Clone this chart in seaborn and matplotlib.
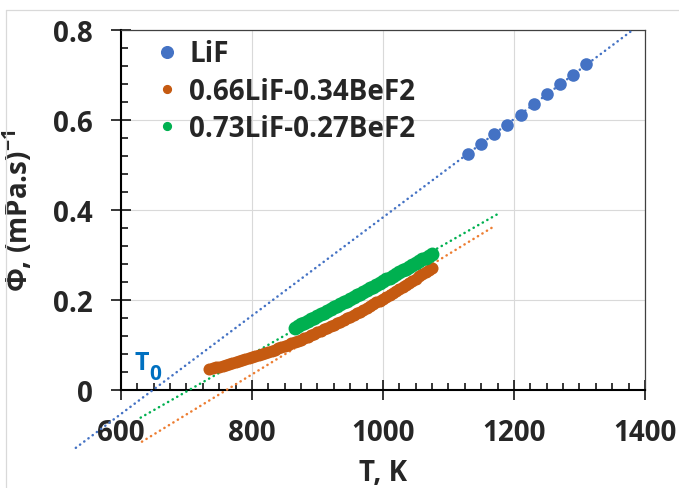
import numpy as np
import pandas as pd
import matplotlib
matplotlib.use("Agg")
import matplotlib.pyplot as plt
import seaborn as sns
from matplotlib.lines import Line2D
from matplotlib.ticker import MultipleLocator

# Fluidity of molten LiF and two LiF-BeF2 mixtures vs temperature
series_names = ["LiF", "0.66LiF-0.34BeF2", "0.73LiF-0.27BeF2"]

lif_T = [1130, 1150, 1170, 1190, 1210, 1230, 1250, 1270, 1290, 1310]
lif_phi = [0.524, 0.547, 0.569, 0.590, 0.612, 0.635, 0.657, 0.680, 0.701, 0.724]

mix66_T = [735, 740, 745, 750, 755, 760, 765, 770, 775, 780, 785, 790,
           795, 800, 805, 810, 815, 820, 825, 830, 835, 840, 845, 850,
           855, 860, 865, 870, 875, 880, 885, 890, 895, 900, 905, 910,
           915, 920, 925, 930, 935, 940, 945, 950, 955, 960, 965, 970,
           975, 980, 985, 990, 995, 1000, 1005, 1010, 1015, 1020, 1025,
           1030, 1035, 1040, 1045, 1050, 1055, 1060, 1065, 1070, 1075]
mix66_phi = [0.0470, 0.0487, 0.0504, 0.0522, 0.0540, 0.0558, 0.0578,
             0.0597, 0.0617, 0.0638, 0.0659, 0.0681, 0.0703, 0.0725,
             0.0748, 0.0772, 0.0796, 0.0820, 0.0845, 0.0871, 0.0897,
             0.0923, 0.0950, 0.0978, 0.1006, 0.1034, 0.1063, 0.1092,
             0.1122, 0.1153, 0.1184, 0.1215, 0.1247, 0.1279, 0.1312,
             0.1345, 0.1379, 0.1413, 0.1448, 0.1483, 0.1519, 0.1555,
             0.1592, 0.1629, 0.1667, 0.1705, 0.1744, 0.1783, 0.1823,
             0.1863, 0.1904, 0.1945, 0.1987, 0.2029, 0.2071, 0.2114,
             0.2158, 0.2202, 0.2247, 0.2292, 0.2337, 0.2383, 0.2430,
             0.2477, 0.2524, 0.2572, 0.2621, 0.2670, 0.2719]

mix73_T = [865, 870, 875, 880, 885, 890, 895, 900, 905, 910, 915, 920,
           925, 930, 935, 940, 945, 950, 955, 960, 965, 970, 975, 980,
           985, 990, 995, 1000, 1005, 1010, 1015, 1020, 1025, 1030, 1035,
           1040, 1045, 1050, 1055, 1060, 1065, 1070, 1075]
mix73_phi = [0.1385, 0.1422, 0.1459, 0.1496, 0.1533, 0.1571, 0.1608,
             0.1646, 0.1683, 0.1721, 0.1759, 0.1797, 0.1835, 0.1873,
             0.1911, 0.1950, 0.1988, 0.2027, 0.2066, 0.2104, 0.2143,
             0.2182, 0.2221, 0.2260, 0.2300, 0.2339, 0.2378, 0.2418,
             0.2458, 0.2497, 0.2537, 0.2577, 0.2617, 0.2658, 0.2698,
             0.2738, 0.2779, 0.2819, 0.2860, 0.2901, 0.2942, 0.2983,
             0.3024]

# Linear trend lines: slope, intercept temperature T0 (phi = 0), drawn range
trend_slope = [0.001092, 0.00089, 0.00083]
trend_T0 = [648.7, 761.0, 704.0]
trend_start = [531, 632, 630]
trend_end = [1382, 1170, 1180]

marker_colors = ["#4472C4", "#C55A11", "#00B050"]
trend_colors = ["#4472C4", "#ED7D31", "#00B050"]
marker_sizes = [82, 75, 100]

sns.set_style("white")
plt.rcParams["font.family"] = ["Open Sans", "DejaVu Sans"]
plt.rcParams["font.weight"] = "bold"
plt.rcParams["mathtext.fontset"] = "custom"
plt.rcParams["mathtext.rm"] = "Open Sans:bold"
plt.rcParams["mathtext.bf"] = "Open Sans:bold"
plt.rcParams["mathtext.default"] = "rm"

fig = plt.figure(figsize=(6.79, 4.89), dpi=100)
ax = fig.add_axes([0.1782, 0.2004, 0.7717, 0.7362])

# light outer chart frame
fig.add_artist(Line2D([6 / 679, 6 / 679], [0, 1 - 10.5 / 489],
                      transform=fig.transFigure, color="#D9D9D9", lw=0.9))
fig.add_artist(Line2D([6 / 679, 1], [1 - 10.5 / 489, 1 - 10.5 / 489],
                      transform=fig.transFigure, color="#D9D9D9", lw=0.9))

# trend lines
for i in range(3):
    t = np.array([trend_start[i], trend_end[i]], dtype=float)
    phi = trend_slope[i] * (t - trend_T0[i])
    sns.lineplot(x=t, y=phi, ax=ax, color=trend_colors[i], lw=1.8,
                 linestyle=(0, (0.1, 2.0)), dash_capstyle="round",
                 clip_on=False, zorder=3, legend=False)

# measured points
data = [(lif_T, lif_phi), (mix66_T, mix66_phi), (mix73_T, mix73_phi)]
for i, (tx, py) in enumerate(data):
    df = pd.DataFrame({"T": tx, "phi": py})
    sns.scatterplot(data=df, x="T", y="phi", ax=ax, color=marker_colors[i],
                    s=marker_sizes[i], linewidth=0, zorder=4, legend=False)

ax.set_xlim(600, 1400)
ax.set_ylim(0, 0.8)
ax.xaxis.set_major_locator(MultipleLocator(200))
ax.xaxis.set_minor_locator(MultipleLocator(25))
ax.yaxis.set_major_locator(MultipleLocator(0.2))
ax.yaxis.set_minor_locator(MultipleLocator(0.04))
ax.set_yticks([0, 0.2, 0.4, 0.6, 0.8])
ax.set_yticklabels(["0", "0.2", "0.4", "0.6", "0.8"])

ax.grid(True, which="major", color="#D9D9D9", lw=0.8)
ax.set_axisbelow(True)

for side in ["left", "bottom"]:
    ax.spines[side].set_color("black")
    ax.spines[side].set_linewidth(1.5)
for side in ["top", "right"]:
    ax.spines[side].set_color("#404040")
    ax.spines[side].set_linewidth(0.9)

ax.tick_params(which="major", direction="inout", length=14.4, width=1.1,
               color="black", labelsize=20, pad=13)
ax.tick_params(which="minor", direction="in", length=5.3, width=1.1,
               color="black")
ax.tick_params(axis="x", which="both", bottom=True, top=False)
ax.tick_params(axis="y", which="both", left=True, right=False)
for lab in ax.get_xticklabels() + ax.get_yticklabels():
    lab.set_fontweight("bold")

ax.set_xlabel("T, K", fontsize=20, fontweight="bold")
ax.set_ylabel(r"Φ, (mPa.s)$^{-1}$", fontsize=20, fontweight="bold")
ax.xaxis.set_label_coords(0.5, -0.19)
ax.yaxis.set_label_coords(-0.165, 0.5)

# intercept marker label
ax.text(621, 0.047, "T", color="#0070C0", fontsize=18, fontweight="bold",
        ha="left", va="baseline")
ax.text(643, 0.024, "0", color="#0070C0", fontsize=15, fontweight="bold",
        ha="left", va="baseline")

handles = [Line2D([], [], marker="o", linestyle="none", markersize=8.4,
                  color=marker_colors[0]),
           Line2D([], [], marker="o", linestyle="none", markersize=5.6,
                  color=marker_colors[1]),
           Line2D([], [], marker="o", linestyle="none", markersize=5.6,
                  color=marker_colors[2])]
leg = ax.legend(handles, series_names, loc="upper left",
                bbox_to_anchor=(0.04, 1.005), frameon=False,
                prop={"size": 20, "weight": "bold"},
                handlelength=1.0, handletextpad=0.3, labelspacing=0.3,
                borderaxespad=0.0)

fig.savefig("out.png", dpi=100)
